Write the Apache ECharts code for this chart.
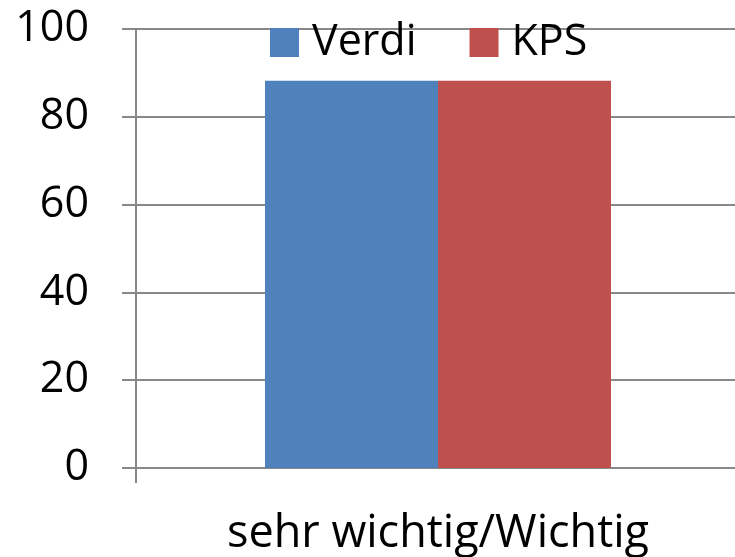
<!DOCTYPE html>
<html>
<head>
<meta charset="utf-8">
<script src="https://cdn.jsdelivr.net/npm/echarts@6/dist/echarts.min.js"></script>
<style>
  html, body { margin: 0; padding: 0; background: #fff; }
  #chart { width: 735px; height: 557px; }
</style>
</head>
<body>
<div id="chart"></div>
<script>
const categories = ["sehr wichtig/Wichtig"];
const verdiValues = [88.2];
const kpsValues = [88.2];
const yTicks = { min: 0, max: 100, interval: 20 };

const font = "'Open Sans', 'Liberation Sans', sans-serif";
const chart = echarts.init(document.getElementById("chart"));

chart.setOption({
  animation: false,
  textStyle: { fontFamily: font },
  legend: {
    top: 16,
    left: 265,
    itemWidth: 29,
    itemHeight: 29,
    itemGap: 53,
    icon: "rect",
    textStyle: { fontSize: 43, color: "#000", padding: [0, 0, 0, 8], fontFamily: font },
    data: ["Verdi", "KPS"],
  },
  grid: {
    left: 136,
    top: 29,
    bottom: 89,
    right: -5,
    containLabel: false,
    outerBoundsMode: "none",
  },
  xAxis: [
    {
      type: "category",
      data: categories,
      axisLine: { lineStyle: { color: "#888", width: 2 } },
      axisTick: { show: false },
      axisLabel: { fontSize: 45, color: "#000", margin: 44, fontFamily: font },
    },
    {
      // helper axis: only gives the left category boundary tick
      type: "value",
      position: "bottom",
      min: 0,
      max: 5,
      interval: 5,
      axisLine: { show: false },
      axisTick: { show: true, length: 15, lineStyle: { color: "#888", width: 2 } },
      axisLabel: { show: false },
      splitLine: { show: false },
    },
  ],
  yAxis: {
    type: "value",
    min: yTicks.min,
    max: yTicks.max,
    interval: yTicks.interval,
    axisLine: { show: true, lineStyle: { color: "#888", width: 2 } },
    axisTick: { show: true, length: 14, lineStyle: { color: "#888", width: 2 } },
    axisLabel: { fontSize: 43, color: "#000", margin: 47, fontFamily: font },
    splitLine: { lineStyle: { color: "#888", width: 2 } },
  },
  series: [
    {
      name: "Verdi",
      type: "bar",
      data: verdiValues,
      barWidth: 173,
      barGap: "0%",
      itemStyle: { color: "#4F81BD" },
    },
    {
      name: "KPS",
      type: "bar",
      data: kpsValues,
      barWidth: 173,
      barGap: "0%",
      itemStyle: { color: "#C0504D" },
    },
  ],
});
</script>
</body>
</html>
